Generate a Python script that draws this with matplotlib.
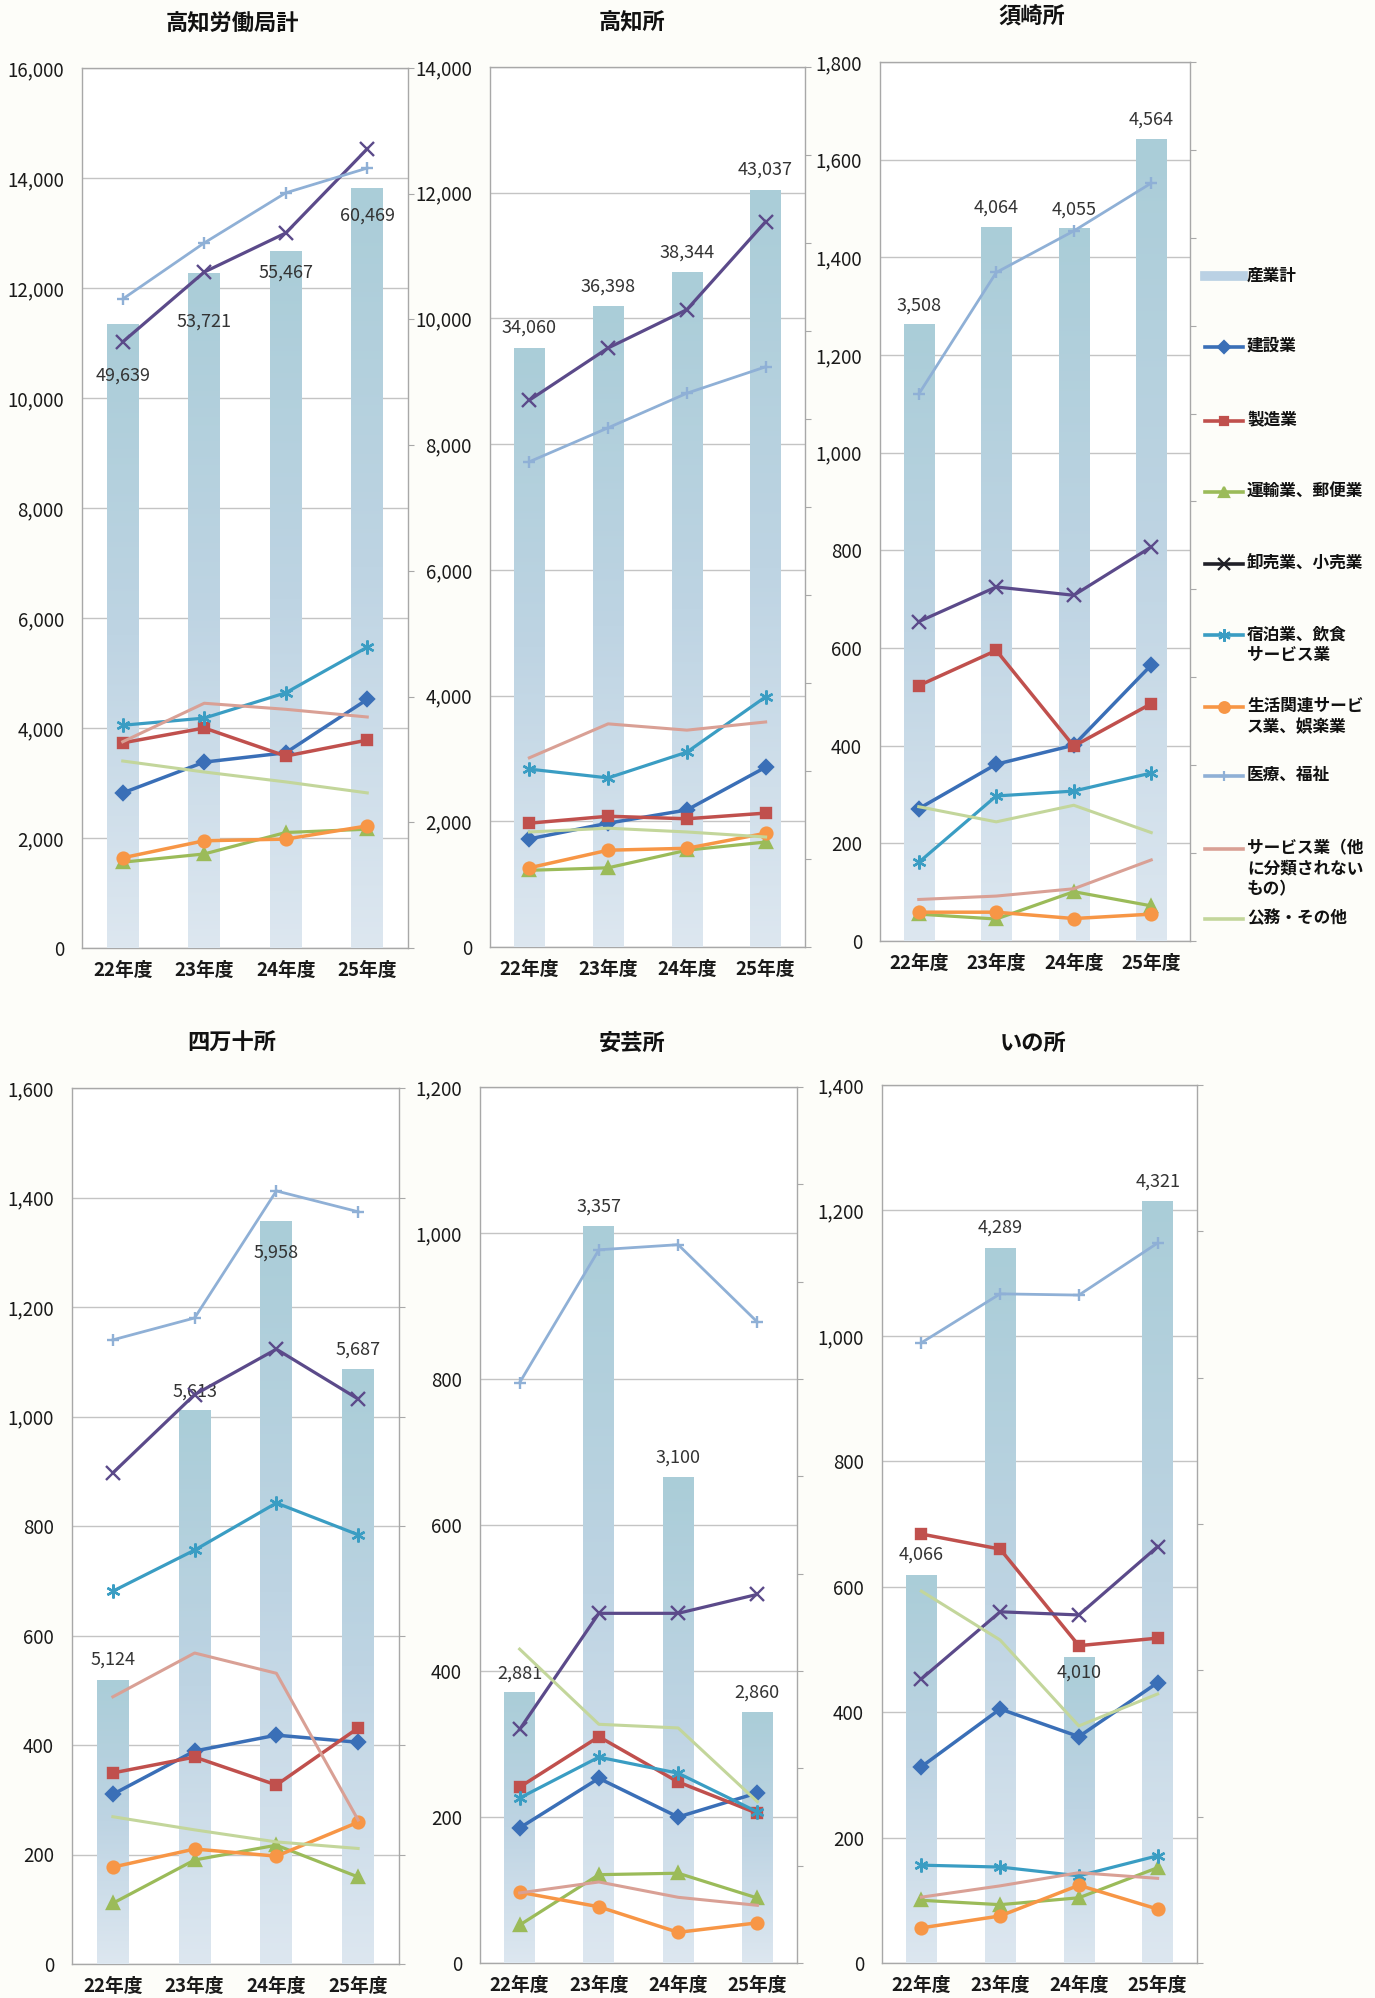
import numpy as np
import matplotlib
matplotlib.use("Agg")
import matplotlib.pyplot as plt
from matplotlib.colors import LinearSegmentedColormap
from matplotlib.lines import Line2D

plt.rcParams["font.family"] = ["Noto Sans CJK JP", "DejaVu Sans"]

# ---------------- data ----------------
years = ["22年度", "23年度", "24年度", "25年度"]
industries = ["建設業", "製造業", "運輸業、郵便業", "卸売業、小売業",
              "宿泊業、飲食\nサービス業", "生活関連サービ\nス業、娯楽業",
              "医療、福祉", "サービス業（他\nに分類されない\nもの）", "公務・その他"]

# rows follow the order of `industries`
kyoku_lines = [
    [2820, 3380, 3550, 4520],
    [3730, 4000, 3490, 3780],
    [1560, 1710, 2100, 2160],
    [11020, 12290, 13000, 14530],
    [4050, 4180, 4640, 5470],
    [1640, 1950, 1980, 2220],
    [11800, 12820, 13730, 14180],
    [3750, 4450, 4340, 4200],
    [3400, 3200, 3020, 2820],
]
kyoku_total = [49639, 53721, 55467, 60469]

kochi_lines = [
    [1720, 1970, 2180, 2860],
    [1970, 2080, 2040, 2130],
    [1220, 1260, 1540, 1670],
    [8700, 9530, 10140, 11540],
    [2830, 2690, 3100, 3980],
    [1260, 1540, 1570, 1810],
    [7720, 8260, 8810, 9230],
    [3010, 3550, 3450, 3580],
    [1830, 1890, 1830, 1750],
]
kochi_total = [34060, 36398, 38344, 43037]

susaki_lines = [
    [271, 362, 401, 565],
    [523, 595, 399, 486],
    [55, 45, 101, 72],
    [654, 725, 708, 807],
    [161, 297, 307, 344],
    [59, 59, 46, 55],
    [1120, 1369, 1454, 1552],
    [85, 92, 107, 166],
    [275, 244, 278, 222],
]
susaki_total = [3508, 4064, 4055, 4564]

shimanto_lines = [
    [310, 389, 418, 405],
    [349, 378, 327, 431],
    [111, 190, 217, 159],
    [897, 1040, 1123, 1032],
    [681, 756, 842, 784],
    [177, 210, 197, 259],
    [1140, 1180, 1412, 1374],
    [488, 568, 531, 263],
    [269, 245, 223, 211],
]
shimanto_total = [5124, 5613, 5958, 5687]
shimanto_bar = [519, 1012, 1357, 1087]

aki_lines = [
    [185, 253, 200, 233],
    [241, 310, 248, 205],
    [52, 121, 123, 89],
    [320, 479, 479, 505],
    [226, 282, 260, 207],
    [97, 77, 42, 55],
    [795, 977, 984, 878],
    [96, 111, 90, 79],
    [430, 327, 322, 221],
]
aki_total = [2881, 3357, 3100, 2860]
aki_bar = [371, 1010, 666, 344]

ino_lines = [
    [313, 405, 361, 447],
    [684, 660, 506, 518],
    [100, 93, 104, 152],
    [453, 560, 555, 664],
    [156, 153, 139, 171],
    [56, 75, 124, 86],
    [989, 1067, 1065, 1148],
    [105, 123, 144, 135],
    [593, 515, 378, 429],
]
ino_total = [4066, 4289, 4010, 4321]
ino_bar = [619, 1140, 488, 1215]

# ---------------- styles ----------------
colors = ["#3a6fb7", "#c0504d", "#9bbb59", "#5b4a8a", "#3a9dc3",
          "#f79646", "#8fb0d6", "#d9a095", "#c3d69b"]
legend_colors = colors[:3] + ["#202028"] + colors[4:]
markers = ["D", "s", "^", "x", (6, 2, 0), "o", "+", None, None]
msizes = [7, 7, 8, 10, 10, 8.5, 8, 0, 0]
lwidths = [2.5, 2.5, 2.3, 2.3, 2.3, 2.5, 2.0, 2.2, 2.2]
bar_cmap = LinearSegmentedColormap.from_list(
    "bar", ["#dde7f0", "#bed4e3", "#aacdd8"])

W, H = 1375, 1998

# title, lines, labels, bar heights, ymax, ystep, sec ticks, axes px rect, title px, label offsets px
panels = [
    ("高知労働局計", kyoku_lines, kyoku_total, kyoku_total, 16000, 2000,
     np.arange(0, 70001, 10000), (82, 68, 408, 948), (232, 24), [-52, -49, -22, -28]),
    ("高知所", kochi_lines, kochi_total, kochi_total, 14000, 2000,
     np.arange(0, 50001, 5000), (490, 67, 805, 947), (632, 23), [20, 20, 20, 20]),
    ("須崎所", susaki_lines, susaki_total, susaki_total, 1800, 200,
     np.arange(0, 5001, 500), (880, 62, 1190, 941), (1032, 17), [19, 19, 19, 19]),
    ("四万十所", shimanto_lines, shimanto_total, shimanto_bar, 1600, 200,
     np.arange(0, 1601, 200), (72, 1088, 399, 1964), (232, 1043), [20, 18, -32, 19]),
    ("安芸所", aki_lines, aki_total, aki_bar, 1200, 200,
     np.linspace(0, 1200, 10), (480, 1087, 797, 1963), (632, 1043), [19, 19, 19, 19]),
    ("いの所", ino_lines, ino_total, ino_bar, 1400, 200,
     np.linspace(0, 1400, 7), (882, 1085, 1197, 1963), (1033, 1043), [20, 20, -16, 19]),
]

fig = plt.figure(figsize=(W / 100, H / 100), dpi=100, facecolor="#fdfdf9")
grey = "#a8a8a8"
x = np.arange(len(years))

for title, lines, totals, bars, ymax, ystep, sec_ticks, rect, tpos, dys in panels:
    x0, y0, x1, y1 = rect
    ax = fig.add_axes([x0 / W, 1 - y1 / H, (x1 - x0) / W, (y1 - y0) / H])
    ax.set_facecolor("white")
    ax.set_xlim(-0.5, 3.5)
    ax.set_ylim(0, ymax)
    ax.set_yticks(np.arange(0, ymax + 1, ystep))
    ax.set_yticklabels([f"{int(v):,}" for v in np.arange(0, ymax + 1, ystep)])
    ax.set_xticks(x)
    ax.set_xticklabels(years, fontweight="bold")
    ax.tick_params(axis="y", length=0, pad=13, labelsize=13.5, colors="#1a1a1a")
    ax.tick_params(axis="x", length=0, pad=9, labelsize=13.5, colors="#1a1a1a")
    ax.grid(axis="y", color="#c4c4c4", lw=1)
    ax.set_axisbelow(True)
    for s in ax.spines.values():
        s.set_color(grey)
        s.set_linewidth(1)

    # bars on the secondary scale
    ax2 = ax.twinx()
    ax2.patch.set_visible(False)
    rects = ax2.bar(x, bars, width=0.39, color="none", edgecolor="none")
    grad = np.linspace(0, 1, 256).reshape(-1, 1)
    for r in rects:
        im = ax2.imshow(grad, extent=[r.get_x(), r.get_x() + r.get_width(), 0, r.get_height()],
                        origin="lower", aspect="auto", cmap=bar_cmap, zorder=1)
        im.set_clip_path(r)
    for i, (b, t) in enumerate(zip(bars, totals)):
        ax2.annotate(f"{t:,}", xy=(x[i], b), xytext=(0, dys[i]), textcoords="offset pixels",
                     ha="center", va="center", fontsize=13, color="#333333", zorder=3)
    ax2.set_xlim(-0.5, 3.5)
    ax2.set_ylim(0, sec_ticks[-1])
    ax2.set_yticks(sec_ticks)
    ax2.tick_params(axis="y", direction="out", length=4, color=grey, labelright=False)
    for s in ax2.spines.values():
        s.set_visible(False)

    # industry lines on the primary scale
    ax3 = ax.twinx()
    ax3.set_ylim(0, ymax)
    ax3.set_xlim(-0.5, 3.5)
    ax3.axis("off")
    for k, vals in enumerate(lines):
        ax3.plot(x, vals, color=colors[k], lw=lwidths[k], marker=markers[k],
                 ms=msizes[k], mew=1.7, clip_on=False)

    ax.set_zorder(1)
    ax2.set_zorder(2)
    ax3.set_zorder(3)

    fig.text(tpos[0] / W, 1 - tpos[1] / H, title, ha="center", va="center",
             fontsize=16, fontweight="bold", color="#111111")

# ---------------- legend ----------------
legend_y = [276, 347, 421, 492, 564, 635, 707, 776, 849, 919]
hx0, hx1, tx = 1205, 1243, 1247
fig.add_artist(Line2D([hx0 / W, hx1 / W], [1 - legend_y[0] / H] * 2,
                      transform=fig.transFigure, color="#bad1e4", lw=7))
fig.text(tx / W, 1 - legend_y[0] / H, "産業計", ha="left", va="center",
         fontsize=12, fontweight="bold", color="#111111")
for k, name in enumerate(industries):
    yy = 1 - legend_y[k + 1] / H
    fig.add_artist(Line2D([hx0 / W, hx1 / W], [yy, yy], transform=fig.transFigure,
                          color=legend_colors[k], lw=2.6))
    if markers[k] is not None:
        fig.add_artist(Line2D([(hx0 + hx1) / 2 / W], [yy], transform=fig.transFigure,
                              color=legend_colors[k], marker=markers[k],
                              ms=msizes[k] * 0.9, mew=1.6, lw=0))
    fig.text(tx / W, yy + 10 / H, name, ha="left", va="top", fontsize=12,
             fontweight="bold", color="#111111", linespacing=1.2)

fig.savefig("out.png", dpi=100, facecolor=fig.get_facecolor())
